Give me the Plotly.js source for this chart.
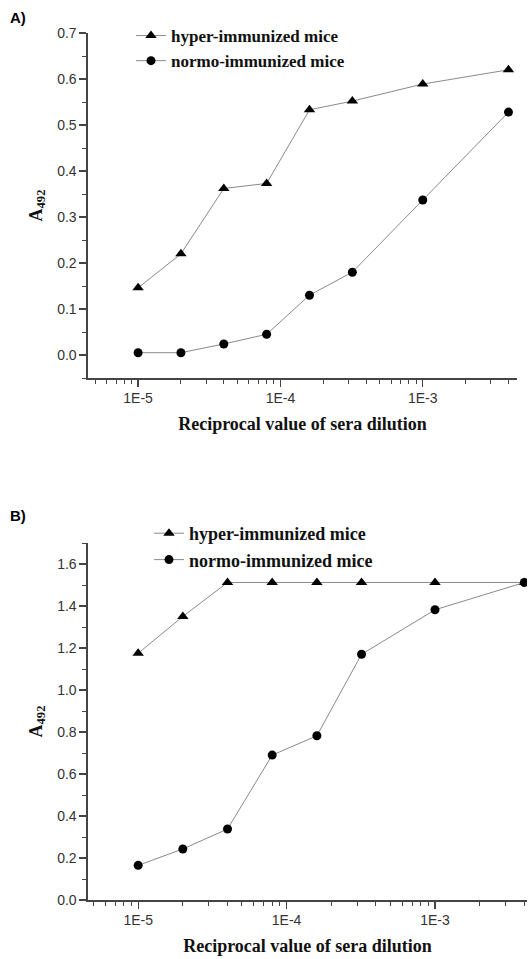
<!DOCTYPE html>
<html>
<head>
<meta charset="utf-8">
<script src="https://cdn.plot.ly/plotly-3.0.1.min.js"></script>
<style>html,body{margin:0;padding:0;background:#fff;}#chart{width:530px;height:959px;}</style>
</head>
<body>
<div id="chart"></div>
<script>
// Reciprocal value of sera dilution
const dilutionA = [1e-5, 2e-5, 4e-5, 8e-5, 1.6e-4, 3.2e-4, 1e-3, 4e-3];
const dilutionB = [1e-5, 2e-5, 4e-5, 8e-5, 1.6e-4, 3.2e-4, 1e-3, 4e-3];
// Panel A values (A492)
const hyperA = [0.146, 0.220, 0.362, 0.373, 0.533, 0.552, 0.589, 0.620];
const normoA = [0.005, 0.005, 0.024, 0.045, 0.130, 0.180, 0.337, 0.528];
// Panel B values (A492)
const hyperB = [1.175, 1.350, 1.512, 1.512, 1.512, 1.512, 1.512, 1.512];
const normoB = [0.165, 0.243, 0.338, 0.690, 0.782, 1.170, 1.382, 1.512];
// Labels
const seriesNames = ["hyper-immunized mice", "normo-immunized mice"];
const xTickVals = [1e-5, 1e-4, 1e-3];
const xTickText = ["1E-5", "1E-4", "1E-3"];
const yTitle = "<b>A<sub>492</sub></b>";
const xTitle = "<b>Reciprocal value of sera dilution</b>";

const minorX = [];
for (let e = -6; e <= -3; e++) {
  for (let m = 2; m <= 9; m++) minorX.push(m * Math.pow(10, e));
}

const lineStyle = {color: '#8a8a8a', width: 1};
const tri = {symbol: 'triangle-up', size: 10, color: '#000'};
const dot = {symbol: 'circle', size: 9, color: '#000'};

const traces = [
  {x: dilutionA, y: hyperA, name: seriesNames[0], mode: 'lines+markers', line: lineStyle, marker: tri, xaxis: 'x', yaxis: 'y', legend: 'legend'},
  {x: dilutionA, y: normoA, name: seriesNames[1], mode: 'lines+markers', line: lineStyle, marker: dot, xaxis: 'x', yaxis: 'y', legend: 'legend'},
  {x: dilutionB, y: hyperB, name: seriesNames[0], mode: 'lines+markers', line: lineStyle, marker: tri, xaxis: 'x2', yaxis: 'y2', legend: 'legend2'},
  {x: dilutionB, y: normoB, name: seriesNames[1], mode: 'lines+markers', line: lineStyle, marker: dot, xaxis: 'x2', yaxis: 'y2', legend: 'legend2'}
];

const tickFont = {family: 'Liberation Sans, Arial, sans-serif', size: 14, color: '#333'};
const titleFont = {family: 'Liberation Serif, Times New Roman, serif', size: 18, color: '#111'};

function xAxis(domain, range, anchor) {
  return {
    type: 'log', domain: domain, range: range, anchor: anchor,
    showline: true, linecolor: '#444', linewidth: 1.6, mirror: false,
    showgrid: false, zeroline: false,
    ticks: 'outside', ticklen: 7, tickwidth: 1.3, tickcolor: '#444',
    tickvals: xTickVals, ticktext: xTickText, tickfont: tickFont,
    minor: {tickvals: minorX, ticks: 'outside', ticklen: 4, tickwidth: 1, tickcolor: '#444', showgrid: false},
    title: {text: xTitle, font: titleFont, standoff: 12}
  };
}
function yAxis(domain, range, dtick, anchor) {
  return {
    domain: domain, range: range, anchor: anchor,
    showline: true, linecolor: '#444', linewidth: 1.6, mirror: false,
    showgrid: false, zeroline: false,
    ticks: 'outside', ticklen: 7, tickwidth: 1.3, tickcolor: '#444',
    dtick: dtick, tick0: 0, tickformat: '.1f', tickfont: tickFont,
    minor: {dtick: dtick / 2, tick0: 0, ticks: 'outside', ticklen: 4, tickwidth: 1, tickcolor: '#444', showgrid: false},
    title: {text: yTitle, font: titleFont, standoff: 10}
  };
}

const legendFontA = {family: 'Liberation Serif, Times New Roman, serif', size: 17, color: '#111', weight: 'bold'};
const legendFontB = {family: 'Liberation Serif, Times New Roman, serif', size: 18, color: '#111', weight: 'bold'};

const layout = {
  width: 530, height: 959,
  margin: {l: 0, r: 0, t: 0, b: 0},
  paper_bgcolor: '#fff', plot_bgcolor: '#fff',
  showlegend: true,
  xaxis: xAxis([88/530, 517/530], [-5.352, -2.338], 'y'),
  yaxis: yAxis([1 - 378/959, 1 - 33/959], [-0.05, 0.7], 0.1, 'x'),
  xaxis2: xAxis([88/530, 527/530], [-5.338, -2.38], 'y2'),
  yaxis2: yAxis([1 - 900/959, 1 - 543/959], [0, 1.7], 0.2, 'x2'),
  legend: {x: 131/530, y: 1 - 18/959, xanchor: 'left', yanchor: 'top', font: legendFontA, bgcolor: 'rgba(0,0,0,0)', tracegroupgap: 0},
  legend2: {x: 149/530, y: 1 - 515/959, xanchor: 'left', yanchor: 'top', font: legendFontB, bgcolor: 'rgba(0,0,0,0)', tracegroupgap: 0},
  annotations: [
    {text: '<b>A)</b>', xref: 'paper', yref: 'paper', x: 8/530, y: 1 - 7/959, xanchor: 'left', yanchor: 'top', showarrow: false, font: {family: 'Liberation Sans, Arial, sans-serif', size: 15, color: '#000'}},
    {text: '<b>B)</b>', xref: 'paper', yref: 'paper', x: 8/530, y: 1 - 505/959, xanchor: 'left', yanchor: 'top', showarrow: false, font: {family: 'Liberation Sans, Arial, sans-serif', size: 15, color: '#000'}}
  ]
};

Plotly.newPlot('chart', traces, layout, {displayModeBar: false, staticPlot: true});
</script>
</body>
</html>
